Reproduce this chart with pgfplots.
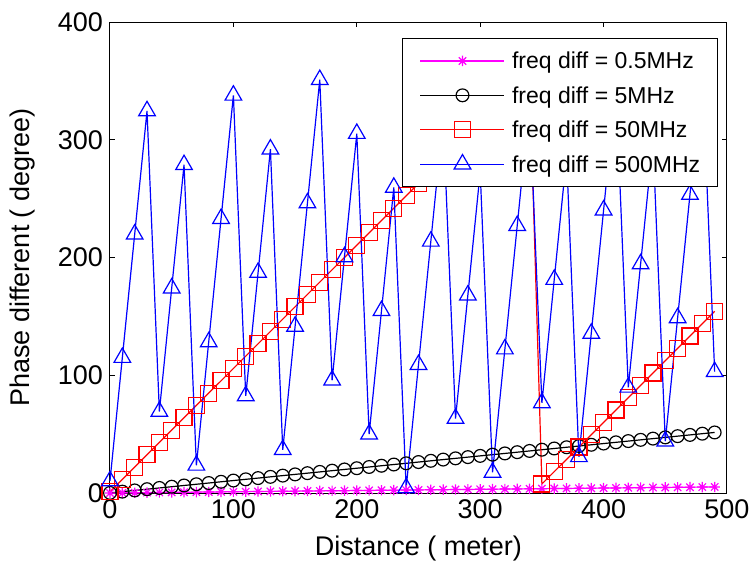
\documentclass[border=0pt]{standalone}
\usepackage{fontspec}
\setmainfont{Liberation Sans}
\usepackage{pgfplots}
\usepackage{pgfplotstable}
\pgfplotsset{compat=1.18}
\definecolor{mmag}{rgb}{1,0,1}
\definecolor{mred}{rgb}{1,0,0}
\definecolor{mblue}{rgb}{0,0,1}

% MATLAB-like star: plus and cross together
\pgfdeclareplotmark{mstar}{%
  \pgfpathmoveto{\pgfqpoint{0pt}{-\pgfplotmarksize}}\pgfpathlineto{\pgfqpoint{0pt}{\pgfplotmarksize}}%
  \pgfpathmoveto{\pgfqpoint{-\pgfplotmarksize}{0pt}}\pgfpathlineto{\pgfqpoint{\pgfplotmarksize}{0pt}}%
  \pgfpathmoveto{\pgfqpoint{-.7071\pgfplotmarksize}{-.7071\pgfplotmarksize}}\pgfpathlineto{\pgfqpoint{.7071\pgfplotmarksize}{.7071\pgfplotmarksize}}%
  \pgfpathmoveto{\pgfqpoint{-.7071\pgfplotmarksize}{.7071\pgfplotmarksize}}\pgfpathlineto{\pgfqpoint{.7071\pgfplotmarksize}{-.7071\pgfplotmarksize}}%
  \pgfusepathqstroke}

% x: distance (m); a: 0.5MHz, b: 5MHz, c: 50MHz, d: 500MHz (degree)
\pgfplotstableread{
x   a      b      c       d
0   0.010  0.10   1.03    10.25
10  0.115  1.15   11.50   115.00
20  0.220  2.20   21.98   219.75
30  0.325  3.25   32.45   324.50
40  0.429  4.29   42.93   69.25
50  0.534  5.34   53.40   174.00
60  0.639  6.39   63.88   278.75
70  0.744  7.44   74.35   23.50
80  0.848  8.48   84.83   128.25
90  0.953  9.53   95.30   233.00
100 1.058  10.58  105.78  337.75
110 1.163  11.63  116.25  82.50
120 1.267  12.67  126.73  187.25
130 1.372  13.72  137.20  292.00
140 1.477  14.77  147.68  36.75
150 1.582  15.82  158.15  141.50
160 1.686  16.86  168.63  246.25
170 1.791  17.91  179.10  351.00
180 1.896  18.96  189.58  95.75
190 2.001  20.01  200.05  200.50
200 2.105  21.05  210.53  305.25
210 2.210  22.10  221.00  50.00
220 2.315  23.15  231.48  154.75
230 2.420  24.20  241.95  259.50
240 2.524  25.24  252.43  4.25
250 2.629  26.29  262.90  109.00
260 2.734  27.34  273.38  213.75
270 2.839  28.39  283.85  318.50
280 2.943  29.43  294.33  63.25
290 3.048  30.48  304.80  168.00
300 3.153  31.53  315.28  272.75
310 3.258  32.58  325.75  17.50
320 3.362  33.62  336.23  122.25
330 3.467  34.67  346.70  227.00
340 3.572  35.72  357.18  331.75
350 3.677  36.77  7.65    76.50
360 3.781  37.81  18.13   181.25
370 3.886  38.86  28.60   286.00
380 3.991  39.91  39.08   30.75
390 4.096  40.96  49.55   135.50
400 4.200  42.00  60.03   240.25
410 4.305  43.05  70.50   345.00
420 4.410  44.10  80.98   89.75
430 4.515  45.15  91.45   194.50
440 4.619  46.19  101.93  299.25
450 4.724  47.24  112.40  44.00
460 4.829  48.29  122.88  148.75
470 4.934  49.34  133.35  253.50
480 5.038  50.38  143.83  358.25
490 5.143  51.43  154.30  103.00
}\phasedata

\begin{document}
\begin{tikzpicture}
\useasboundingbox (-55pt,-38.5pt) rectangle (320pt,246.5pt);
\begin{axis}[
  at={(0pt,0pt)},anchor=south west,
  width=308.5pt,height=235.5pt,scale only axis,
  xmin=0,xmax=500,ymin=0,ymax=400,
  xtick={0,100,...,500},ytick={0,100,...,400},
  tick align=inside,major tick length=2.5pt,
  axis line style={line width=0.5pt},
  every tick/.style={black,line width=0.5pt},
  /pgf/number format/assume math mode=true,
  tick label style={font=\fontsize{13.5}{16}\selectfont},
  label style={font=\fontsize{13.5}{16}\selectfont},
  xlabel={Distance ( meter)},
  ylabel={Phase different ( degree)},
  xlabel style={at={(axis description cs:0.5,-0.117)},anchor=center},
  ylabel style={at={(axis description cs:-0.1426,0.5)},anchor=center},
  clip=false,
  legend cell align=left,
  legend image code/.code={\draw[mark repeat=2,mark phase=2] plot coordinates {(0pt,0pt) (21pt,0pt) (42pt,0pt)};},
  legend style={at={(0.985,0.966)},anchor=north east,draw=black,line width=0.5pt,
    font=\fontsize{11.5}{13}\selectfont,inner xsep=8.5pt,inner ysep=2.6pt,row sep=0pt,
    nodes={inner sep=0pt,text height=12.6pt,text depth=4.6pt},
    /tikz/every odd column/.append style={column sep=3.5pt}},
  every axis plot/.append style={line width=0.6pt},
]
\addplot[mmag,mark=mstar,mark size=2.6pt] table[x=x,y=a] {\phasedata};
\addlegendentry{freq diff = 0.5MHz}
\addplot[black,mark=o,mark size=3.2pt] table[x=x,y=b] {\phasedata};
\addlegendentry{freq diff = 5MHz}
\addplot[mred,mark=square,mark size=4pt] table[x=x,y=c] {\phasedata};
\addlegendentry{freq diff = 50MHz}
\addplot[mblue,mark=triangle,mark size=4.8pt] table[x=x,y=d] {\phasedata};
\addlegendentry{freq diff = 500MHz}
\end{axis}
\end{tikzpicture}
\end{document}
